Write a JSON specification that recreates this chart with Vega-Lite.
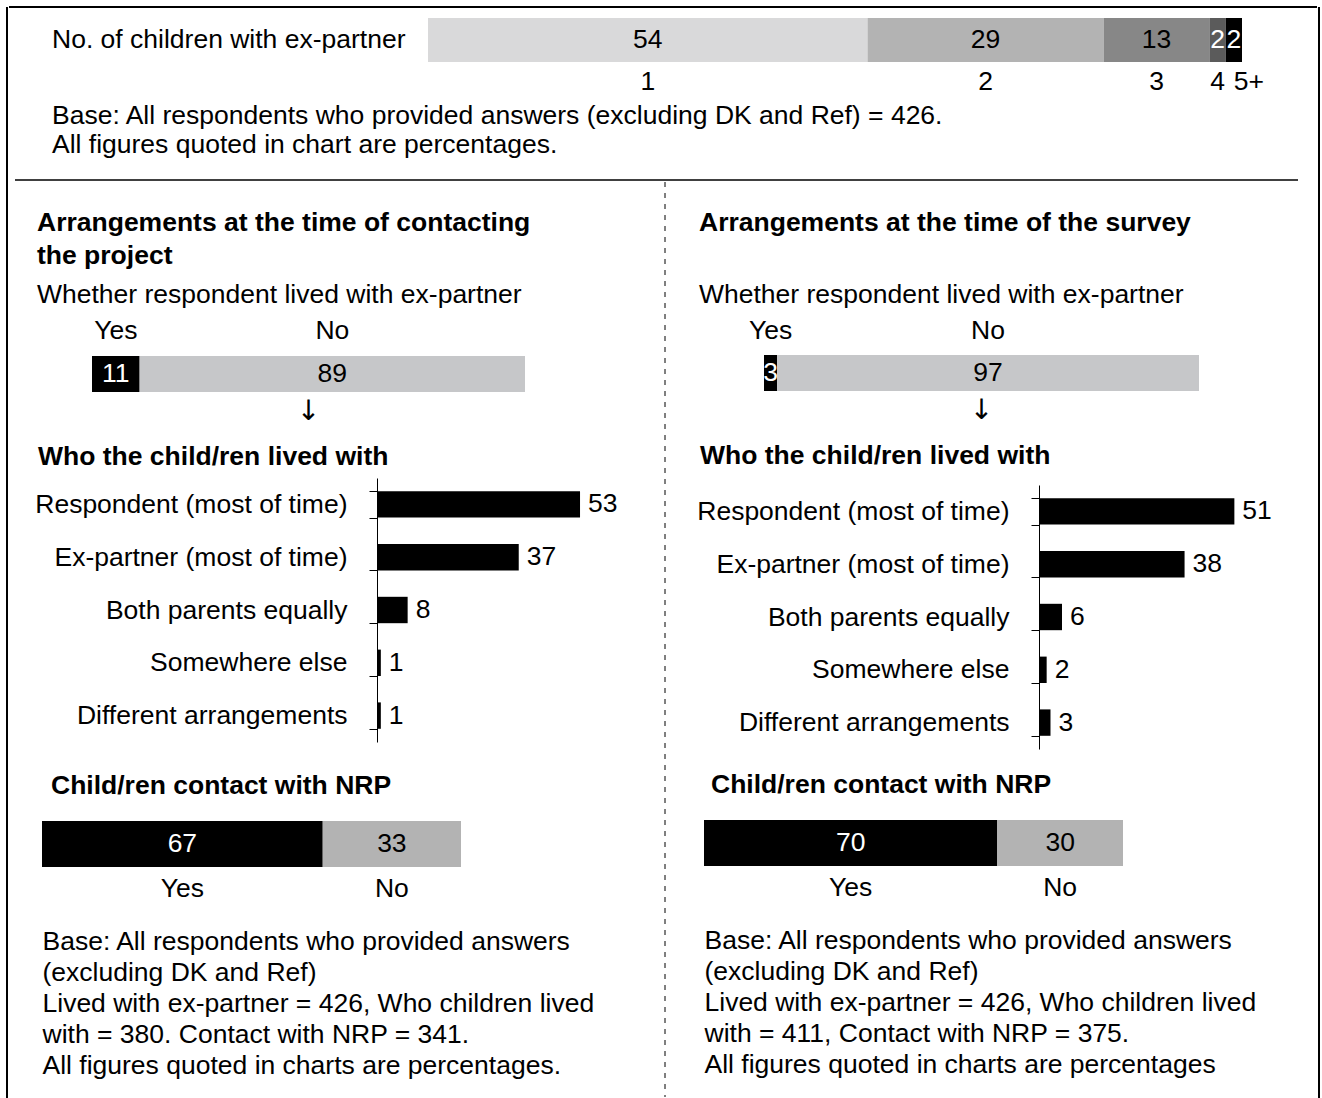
{
  "$schema": "https://vega.github.io/schema/vega-lite/v6.json",
  "padding": {"left": 6, "top": 6, "right": 0, "bottom": 0},
  "background": "white",
  "config": {
    "font": "Liberation Sans",
    "view": {"stroke": null},
    "text": {"fontSize": 26.5, "color": "black"},
    "title": {"fontSize": 26.5, "color": "black", "fontWeight": "bold", "anchor": "start", "frame": "group", "subtitleFontSize": 26.5, "subtitleColor": "black", "subtitleFontWeight": "normal", "subtitleFont": "Liberation Sans"},
    "axis": {"labelFontSize": 26.5, "labelColor": "black", "labelLimit": 700, "titleFontSize": 26.5, "titleColor": "black", "titleFontWeight": "normal", "grid": false}
  },
  "spacing": 0,
  "resolve": {"scale": {"color": "independent"}},
  "hconcat": [
    {"width": 1, "height": 1091, "data": {"values": [{"line": "frame left"}]}, "mark": {"type": "rule", "color": "black", "strokeWidth": 2}, "encoding": {"x": {"datum": 0, "type": "quantitative", "scale": {"domain": [0, 1]}, "axis": null}}},
    {
      "spacing": 0,
      "resolve": {"scale": {"color": "independent"}},
      "vconcat": [
        {
          "spacing": 10,
          "vconcat": [
            {"width": 1308, "height": 1, "data": {"values": [{"line": "frame top"}]}, "mark": {"type": "rule", "color": "black", "strokeWidth": 2}, "encoding": {"y": {"datum": 1, "type": "quantitative", "scale": {"domain": [0, 1]}, "axis": null}}},
            {
              "spacing": 21,
              "vconcat": [
                {
                  "spacing": 41,
                  "hconcat": [
                    {"width": 1, "height": 1, "data": {"values": []}, "mark": "point"},
                    {
                      "width": 814, "height": 44,
                      "data": {"values": [
                        {"question": "No. of children with ex-partner", "children": "1", "pct": 54},
                        {"question": "No. of children with ex-partner", "children": "2", "pct": 29},
                        {"question": "No. of children with ex-partner", "children": "3", "pct": 13},
                        {"question": "No. of children with ex-partner", "children": "4", "pct": 2},
                        {"question": "No. of children with ex-partner", "children": "5+", "pct": 2}
                      ]},
                      "title": {"text": ["Base: All respondents who provided answers (excluding DK and Ref) = 426.", "All figures quoted in chart are percentages."], "orient": "bottom", "fontWeight": "normal", "dx": -376, "offset": 7, "lineHeight": 29},
                      "encoding": {
                        "y": {"field": "question", "type": "nominal", "scale": {"paddingInner": 0, "paddingOuter": 0}, "axis": {"title": null, "domain": false, "ticks": false, "tickSize": 0, "labelPadding": 23}},
                        "order": {"field": "children"}
                      },
                      "layer": [
                        {"mark": "bar", "encoding": {
                          "x": {"field": "pct", "type": "quantitative", "stack": "zero", "scale": {"domain": [0, 100]}, "axis": null},
                          "color": {"field": "children", "type": "nominal", "scale": {"domain": ["1", "2", "3", "4", "5+"], "range": ["#d9d9da", "#b3b3b3", "#878787", "#5b5b5b", "#000000"]}, "legend": null}
                        }},
                        {"mark": {"type": "text"}, "encoding": {
                          "x": {"field": "pct", "type": "quantitative", "stack": "zero", "bandPosition": 0.5, "axis": null},
                          "detail": {"field": "children"},
                          "text": {"field": "pct"},
                          "color": {"condition": {"test": "datum.children === '4' || datum.children === '5+'", "value": "white"}, "value": "black"}
                        }},
                        {"mark": {"type": "text", "dy": 42}, "encoding": {
                          "x": {"field": "pct", "type": "quantitative", "stack": "zero", "bandPosition": 0.5, "axis": null},
                          "detail": {"field": "children"},
                          "text": {"condition": {"test": "datum.children === '5+'", "value": ""}, "field": "children"}
                        }},
                        {
                          "transform": [
                            {"stack": "pct", "groupby": ["question"], "sort": [{"field": "children", "order": "ascending"}], "as": ["pct_start", "pct_end"]},
                            {"filter": "datum.children === '5+'"}
                          ],
                          "mark": {"type": "text", "dy": 42, "align": "left", "dx": 8},
                          "encoding": {
                            "x": {"field": "pct_start", "type": "quantitative", "axis": null},
                            "text": {"field": "children"}
                          }
                        }
                      ]
                    }
                  ]
                },
                {
                  "spacing": 4,
                  "hconcat": [
                    {"width": 1, "height": 1, "data": {"values": []}, "mark": "point"},
                    {"width": 1283, "height": 1, "data": {"values": [{"line": "separator"}]}, "mark": {"type": "rule", "color": "black", "strokeWidth": 1.5}, "encoding": {"y": {"datum": 1, "type": "quantitative", "scale": {"domain": [0, 1]}, "axis": null}}}
                  ]
                }
              ]
            }
          ]
        },
        {
          "spacing": 28,
          "resolve": {"scale": {"color": "independent"}},
          "hconcat": [
            {
              "spacing": 27,
              "resolve": {"scale": {"color": "independent"}},
              "vconcat": [
                {"width": 1, "height": 1, "data": {"values": []}, "mark": "point"},
                {
                  "spacing": 30,
                  "resolve": {"scale": {"color": "independent"}},
                  "vconcat": [
                    {
                      "spacing": 17,
                      "vconcat": [
                        {
                          "spacing": 27,
                          "hconcat": [
                            {"width": 1, "height": 1, "data": {"values": []}, "mark": "point"},
                            {
                              "width": 433, "height": 36,
                              "title": {"text": ["Arrangements at the time of contacting", "the project"], "subtitle": "Whether respondent lived with ex-partner", "dx": -55, "offset": 9.5, "lineHeight": 33, "subtitlePadding": 12.5},
                              "layer": [
                                {
                                  "data": {"values": [
                                    {"question": "Whether respondent lived with ex-partner", "answer": "Yes", "pct": 11},
                                    {"question": "Whether respondent lived with ex-partner", "answer": "No", "pct": 89}
                                  ]},
                                  "encoding": {
                                    "y": {"field": "question", "type": "nominal", "scale": {"paddingInner": 0, "paddingOuter": 0}, "axis": null},
                                    "order": {"field": "answer", "sort": "descending"}
                                  },
                                  "layer": [
                                    {"mark": "bar", "encoding": {
                                      "x": {"field": "pct", "type": "quantitative", "stack": "zero", "scale": {"domain": [0, 100]}, "axis": null},
                                      "color": {"field": "answer", "type": "nominal", "scale": {"domain": ["Yes", "No"], "range": ["#000000", "#c6c7c9"]}, "legend": null}
                                    }},
                                    {"mark": {"type": "text"}, "encoding": {
                                      "x": {"field": "pct", "type": "quantitative", "stack": "zero", "bandPosition": 0.5, "axis": null},
                                      "detail": {"field": "answer"},
                                      "text": {"field": "pct"},
                                      "color": {"condition": {"test": "datum.answer === 'Yes'", "value": "white"}, "value": "black"}
                                    }},
                                    {"mark": {"type": "text", "dy": -43}, "encoding": {
                                      "x": {"field": "pct", "type": "quantitative", "stack": "zero", "bandPosition": 0.5, "axis": null},
                                      "detail": {"field": "answer"},
                                      "text": {"field": "answer"}
                                    }}
                                  ]
                                },
                                {"data": {"values": [{"symbol": "↓"}]}, "mark": {"type": "text", "dy": 38, "font": "DejaVu Sans", "fontSize": 28}, "encoding": {"text": {"field": "symbol"}}}
                              ]
                            }
                          ]
                        },
                        {
                          "spacing": 24,
                          "hconcat": [
                            {"width": 1, "height": 1, "data": {"values": []}, "mark": "point"},
                            {
                              "width": 249, "height": 264,
                              "data": {"values": [
                                {"arrangement": "Respondent (most of time)", "pct": 53},
                                {"arrangement": "Ex-partner (most of time)", "pct": 37},
                                {"arrangement": "Both parents equally", "pct": 8},
                                {"arrangement": "Somewhere else", "pct": 1},
                                {"arrangement": "Different arrangements", "pct": 1}
                              ]},
                              "title": {"text": "Who the child/ren lived with", "dx": -339, "offset": -5},
                              "encoding": {
                                "y": {"field": "arrangement", "type": "nominal", "sort": null, "scale": {"paddingInner": 0.5, "paddingOuter": 0.25}, "axis": {"title": null, "domain": true, "domainColor": "black", "domainWidth": 1, "ticks": true, "tickBand": "extent", "tickSize": 8, "tickColor": "black", "tickWidth": 1, "labelPadding": 22}},
                                "x": {"field": "pct", "type": "quantitative", "scale": {"domain": [0, 65]}, "axis": null}
                              },
                              "layer": [
                                {"mark": {"type": "bar", "color": "black"}},
                                {"mark": {"type": "text", "align": "left", "dx": 8}, "encoding": {"text": {"field": "pct"}}}
                              ]
                            }
                          ]
                        }
                      ]
                    },
                    {
                      "spacing": 23,
                      "vconcat": [
                        {
                          "spacing": 32,
                          "hconcat": [
                            {"width": 1, "height": 1, "data": {"values": []}, "mark": "point"},
                            {
                              "width": 419, "height": 46,
                              "data": {"values": [
                                {"question": "Child/ren contact with NRP", "contact": "Yes", "pct": 67},
                                {"question": "Child/ren contact with NRP", "contact": "No", "pct": 33}
                              ]},
                              "title": {"text": "Child/ren contact with NRP", "dx": 9, "offset": 21.75},
                              "encoding": {
                                "y": {"field": "question", "type": "nominal", "scale": {"paddingInner": 0, "paddingOuter": 0}, "axis": null},
                                "order": {"field": "contact", "sort": "descending"}
                              },
                              "layer": [
                                {"mark": "bar", "encoding": {
                                  "x": {"field": "pct", "type": "quantitative", "stack": "zero", "scale": {"domain": [0, 100]}, "axis": null},
                                  "color": {"field": "contact", "type": "nominal", "scale": {"domain": ["Yes", "No"], "range": ["#000000", "#b3b3b3"]}, "legend": null}
                                }},
                                {"mark": {"type": "text"}, "encoding": {
                                  "x": {"field": "pct", "type": "quantitative", "stack": "zero", "bandPosition": 0.5, "axis": null},
                                  "detail": {"field": "contact"},
                                  "text": {"field": "pct"},
                                  "color": {"condition": {"test": "datum.contact === 'Yes'", "value": "white"}, "value": "black"}
                                }},
                                {"mark": {"type": "text", "dy": 45}, "encoding": {
                                  "x": {"field": "pct", "type": "quantitative", "stack": "zero", "bandPosition": 0.5, "axis": null},
                                  "detail": {"field": "contact"},
                                  "text": {"field": "contact"}
                                }}
                              ]
                            }
                          ]
                        },
                        {
                          "spacing": 32,
                          "hconcat": [
                            {"width": 1, "height": 1, "data": {"values": []}, "mark": "point"},
                            {
                              "width": 1, "height": 156,
                              "data": {"values": [
                                {"line": 1, "note": "Base: All respondents who provided answers"},
                                {"line": 2, "note": "(excluding DK and Ref)"},
                                {"line": 3, "note": "Lived with ex-partner = 426, Who children lived"},
                                {"line": 4, "note": "with = 380. Contact with NRP = 341."},
                                {"line": 5, "note": "All figures quoted in charts are percentages."}
                              ]},
                              "mark": {"type": "text", "align": "left"},
                              "encoding": {
                                "y": {"field": "line", "type": "ordinal", "axis": null},
                                "text": {"field": "note"}
                              }
                            }
                          ]
                        }
                      ]
                    }
                  ]
                }
              ]
            },
            {"width": 11, "height": 915, "data": {"values": [{"line": "divider"}]}, "mark": {"type": "rule", "color": "black", "strokeWidth": 1, "strokeDash": [5, 6]}, "encoding": {"x": {"datum": 1, "type": "quantitative", "scale": {"domain": [0, 1]}, "axis": null}}},
            {
              "spacing": 27,
              "resolve": {"scale": {"color": "independent"}},
              "vconcat": [
                {"width": 1, "height": 1, "data": {"values": []}, "mark": "point"},
                {
                  "spacing": 22,
                  "resolve": {"scale": {"color": "independent"}},
                  "vconcat": [
                    {
                      "spacing": 17,
                      "vconcat": [
                        {
                          "spacing": 4,
                          "hconcat": [
                            {"width": 1, "height": 1, "data": {"values": []}, "mark": "point"},
                            {
                              "width": 435, "height": 36,
                              "title": {"text": "Arrangements at the time of the survey", "subtitle": "Whether respondent lived with ex-partner", "dx": -65, "offset": 9.5, "lineHeight": 33, "subtitlePadding": 45.5},
                              "layer": [
                                {
                                  "data": {"values": [
                                    {"question": "Whether respondent lived with ex-partner", "answer": "Yes", "pct": 3},
                                    {"question": "Whether respondent lived with ex-partner", "answer": "No", "pct": 97}
                                  ]},
                                  "encoding": {
                                    "y": {"field": "question", "type": "nominal", "scale": {"paddingInner": 0, "paddingOuter": 0}, "axis": null},
                                    "order": {"field": "answer", "sort": "descending"}
                                  },
                                  "layer": [
                                    {"mark": "bar", "encoding": {
                                      "x": {"field": "pct", "type": "quantitative", "stack": "zero", "scale": {"domain": [0, 100]}, "axis": null},
                                      "color": {"field": "answer", "type": "nominal", "scale": {"domain": ["Yes", "No"], "range": ["#000000", "#c6c7c9"]}, "legend": null}
                                    }},
                                    {"mark": {"type": "text"}, "encoding": {
                                      "x": {"field": "pct", "type": "quantitative", "stack": "zero", "bandPosition": 0.5, "axis": null},
                                      "detail": {"field": "answer"},
                                      "text": {"field": "pct"},
                                      "color": {"condition": {"test": "datum.answer === 'Yes'", "value": "white"}, "value": "black"}
                                    }},
                                    {"mark": {"type": "text", "dy": -42}, "encoding": {
                                      "x": {"field": "pct", "type": "quantitative", "stack": "zero", "bandPosition": 0.5, "axis": null},
                                      "detail": {"field": "answer"},
                                      "text": {"field": "answer"}
                                    }}
                                  ]
                                },
                                {"data": {"values": [{"symbol": "↓"}]}, "mark": {"type": "text", "dy": 38, "font": "DejaVu Sans", "fontSize": 28}, "encoding": {"text": {"field": "symbol"}}}
                              ]
                            }
                          ]
                        },
                        {
                          "spacing": 1,
                          "hconcat": [
                            {"width": 1, "height": 1, "data": {"values": []}, "mark": "point"},
                            {
                              "width": 249, "height": 264,
                              "data": {"values": [
                                {"arrangement": "Respondent (most of time)", "pct": 51},
                                {"arrangement": "Ex-partner (most of time)", "pct": 38},
                                {"arrangement": "Both parents equally", "pct": 6},
                                {"arrangement": "Somewhere else", "pct": 2},
                                {"arrangement": "Different arrangements", "pct": 3}
                              ]},
                              "title": {"text": "Who the child/ren lived with", "dx": -339, "offset": 3},
                              "encoding": {
                                "y": {"field": "arrangement", "type": "nominal", "sort": null, "scale": {"paddingInner": 0.5, "paddingOuter": 0.25}, "axis": {"title": null, "domain": true, "domainColor": "black", "domainWidth": 1, "ticks": true, "tickBand": "extent", "tickSize": 8, "tickColor": "black", "tickWidth": 1, "labelPadding": 22}},
                                "x": {"field": "pct", "type": "quantitative", "scale": {"domain": [0, 65]}, "axis": null}
                              },
                              "layer": [
                                {"mark": {"type": "bar", "color": "black"}},
                                {"mark": {"type": "text", "align": "left", "dx": 8}, "encoding": {"text": {"field": "pct"}}}
                              ]
                            }
                          ]
                        }
                      ]
                    },
                    {
                      "spacing": 23,
                      "vconcat": [
                        {
                          "spacing": 9,
                          "hconcat": [
                            {"width": 1, "height": 1, "data": {"values": []}, "mark": "point"},
                            {
                              "width": 419, "height": 46,
                              "data": {"values": [
                                {"question": "Child/ren contact with NRP", "contact": "Yes", "pct": 70},
                                {"question": "Child/ren contact with NRP", "contact": "No", "pct": 30}
                              ]},
                              "title": {"text": "Child/ren contact with NRP", "dx": 7, "offset": 21.75},
                              "encoding": {
                                "y": {"field": "question", "type": "nominal", "scale": {"paddingInner": 0, "paddingOuter": 0}, "axis": null},
                                "order": {"field": "contact", "sort": "descending"}
                              },
                              "layer": [
                                {"mark": "bar", "encoding": {
                                  "x": {"field": "pct", "type": "quantitative", "stack": "zero", "scale": {"domain": [0, 100]}, "axis": null},
                                  "color": {"field": "contact", "type": "nominal", "scale": {"domain": ["Yes", "No"], "range": ["#000000", "#b3b3b3"]}, "legend": null}
                                }},
                                {"mark": {"type": "text"}, "encoding": {
                                  "x": {"field": "pct", "type": "quantitative", "stack": "zero", "bandPosition": 0.5, "axis": null},
                                  "detail": {"field": "contact"},
                                  "text": {"field": "pct"},
                                  "color": {"condition": {"test": "datum.contact === 'Yes'", "value": "white"}, "value": "black"}
                                }},
                                {"mark": {"type": "text", "dy": 45}, "encoding": {
                                  "x": {"field": "pct", "type": "quantitative", "stack": "zero", "bandPosition": 0.5, "axis": null},
                                  "detail": {"field": "contact"},
                                  "text": {"field": "contact"}
                                }}
                              ]
                            }
                          ]
                        },
                        {
                          "spacing": 9,
                          "hconcat": [
                            {"width": 1, "height": 1, "data": {"values": []}, "mark": "point"},
                            {
                              "width": 1, "height": 156,
                              "data": {"values": [
                                {"line": 1, "note": "Base: All respondents who provided answers"},
                                {"line": 2, "note": "(excluding DK and Ref)"},
                                {"line": 3, "note": "Lived with ex-partner = 426, Who children lived"},
                                {"line": 4, "note": "with = 411, Contact with NRP = 375."},
                                {"line": 5, "note": "All figures quoted in charts are percentages"}
                              ]},
                              "mark": {"type": "text", "align": "left"},
                              "encoding": {
                                "y": {"field": "line", "type": "ordinal", "axis": null},
                                "text": {"field": "note"}
                              }
                            }
                          ]
                        }
                      ]
                    }
                  ]
                }
              ]
            }
          ]
        }
      ]
    },
    {"width": 1, "height": 1091, "data": {"values": [{"line": "frame right"}]}, "mark": {"type": "rule", "color": "black", "strokeWidth": 2}, "encoding": {"x": {"datum": 0, "type": "quantitative", "scale": {"domain": [0, 1]}, "axis": null}}}
  ]
}
